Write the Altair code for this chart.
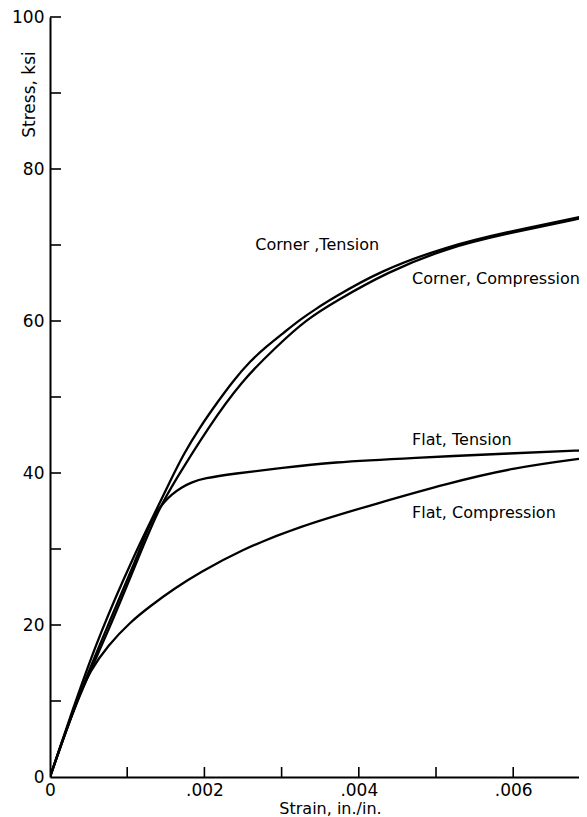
import altair as alt
import pandas as pd

# ---- data ----
series_names = ["Corner, Tension", "Corner, Compression", "Flat, Tension", "Flat, Compression"]

ct_strain = [0, 0.00033, 0.00065, 0.00108, 0.00138, 0.00155, 0.00173, 0.00194, 0.00216, 0.00237, 0.00259, 0.00281, 0.00302, 0.00324, 0.00346, 0.00363, 0.00427, 0.00514, 0.00587, 0.00696]
ct_stress = [0, 10, 19, 29, 35.2, 38.8, 42.5, 46.0, 49.2, 52.1, 54.7, 56.7, 58.4, 60.2, 61.7, 62.8, 66.6, 69.8, 71.6, 73.9]

cc_strain = [0, 0.00034, 0.00075, 0.00115, 0.00140, 0.00162, 0.00205, 0.00248, 0.00294, 0.00332, 0.00370, 0.00436, 0.00514, 0.00587, 0.00696]
cc_stress = [0, 10, 19, 29, 35.1, 39.0, 46.0, 52.1, 56.7, 60.2, 62.6, 66.4, 69.6, 71.4, 73.7]

ft_strain = [0, 0.00034, 0.00071, 0.00113, 0.00128, 0.00138, 0.00148, 0.00158, 0.00170, 0.00184, 0.00199, 0.00237, 0.00302, 0.00363, 0.00470, 0.00600, 0.00696]
ft_stress = [0, 10, 19, 29, 33.0, 34.9, 36.2, 37.2, 38.1, 38.8, 39.3, 39.9, 40.7, 41.4, 42.0, 42.6, 43.0]

fc_strain = [0, 0.00034, 0.00052, 0.00075, 0.00104, 0.00130, 0.00161, 0.00194, 0.00246, 0.00320, 0.00427, 0.00514, 0.00600, 0.00696]
fc_stress = [0, 10, 14.0, 17.3, 20.4, 22.5, 24.8, 26.9, 29.8, 32.9, 36.1, 38.6, 40.7, 42.0]

label_texts = ["Corner ,Tension", "Corner, Compression", "Flat, Tension", "Flat, Compression"]
label_strain = [0.00266, 0.00469, 0.00469, 0.00469]
label_stress = [70.0, 65.5, 44.3, 34.7]

x_label_ticks = [0, 0.002, 0.004, 0.006]
x_all_ticks = [0.001, 0.002, 0.003, 0.004, 0.005, 0.006]
y_label_ticks = [0, 20, 40, 60, 80, 100]
y_all_ticks = [10, 20, 30, 40, 50, 60, 70, 80, 90, 100]

X_MAX = 0.006852
Y_MAX = 100

# ---- tables ----
rows = []
for name, xs, ys in zip(series_names,
                        [ct_strain, cc_strain, ft_strain, fc_strain],
                        [ct_stress, cc_stress, ft_stress, fc_stress]):
    for xv, yv in zip(xs, ys):
        rows.append({"series": name, "strain": xv, "stress": yv})
curves = pd.DataFrame(rows)
labels = pd.DataFrame({"label": label_texts, "strain": label_strain, "stress": label_stress})
xticks_df = pd.DataFrame({"strain": x_all_ticks})
yticks_df = pd.DataFrame({"stress": y_all_ticks})

W, H = 529, 760
FONT = "DejaVu Sans"

x_scale = alt.Scale(domain=[0, X_MAX], nice=False, zero=False)
y_scale = alt.Scale(domain=[0, Y_MAX], nice=False, zero=False)

x_axis = alt.Axis(
    values=x_label_ticks,
    labelExpr="datum.value == 0 ? '0' : substring(format(datum.value, '.3f'), 1)",
    ticks=False, tickSize=0, grid=False,
    domain=True, domainColor="black", domainWidth=2,
    labelFont=FONT, labelFontSize=17, labelColor="black", labelPadding=5,
    labelFlush=False, labelOverlap=False,
    title="Strain, in./in.", titleFont=FONT, titleFontSize=16, titleFontWeight="normal",
    titleColor="black", titleX=280, titleY=31, titleAlign="center", titleBaseline="middle",
)
y_axis = alt.Axis(
    values=y_label_ticks,
    ticks=False, tickSize=0, grid=False,
    domain=True, domainColor="black", domainWidth=2,
    labelFont=FONT, labelFontSize=17, labelColor="black", labelPadding=6,
    labelFlush=False, labelOverlap=False,
    title="Stress, ksi", titleFont=FONT, titleFontSize=17, titleFontWeight="normal",
    titleColor="black", titleAngle=270, titleX=-21, titleY=77,
    titleAlign="center", titleBaseline="middle",
)

lines = alt.Chart(curves).mark_line(
    color="black", strokeWidth=2.3, interpolate="basis", clip=True
).encode(
    x=alt.X("strain:Q", scale=x_scale, axis=x_axis),
    y=alt.Y("stress:Q", scale=y_scale, axis=y_axis),
    detail="series:N",
)

text = alt.Chart(labels).mark_text(
    font=FONT, fontSize=16, color="black", align="left", baseline="middle"
).encode(
    x=alt.X("strain:Q", scale=x_scale),
    y=alt.Y("stress:Q", scale=y_scale),
    text="label:N",
)

xt = alt.Chart(xticks_df).mark_rule(color="black", strokeWidth=1.6).encode(
    x=alt.X("strain:Q", scale=x_scale),
    y=alt.value(H),
    y2=alt.value(H - 10),
)
yt = alt.Chart(yticks_df).mark_rule(color="black", strokeWidth=1.6).encode(
    y=alt.Y("stress:Q", scale=y_scale),
    x=alt.value(0),
    x2=alt.value(11),
)

chart = alt.layer(lines, xt, yt, text).properties(
    width=W, height=H,
    autosize=alt.AutoSizeParams(type="none"),
    padding={"left": 42, "top": 9, "right": 0, "bottom": 40},
    background="white",
).configure_view(stroke=None)

chart.save("out.html", embed_options={"renderer": "svg", "actions": False})
